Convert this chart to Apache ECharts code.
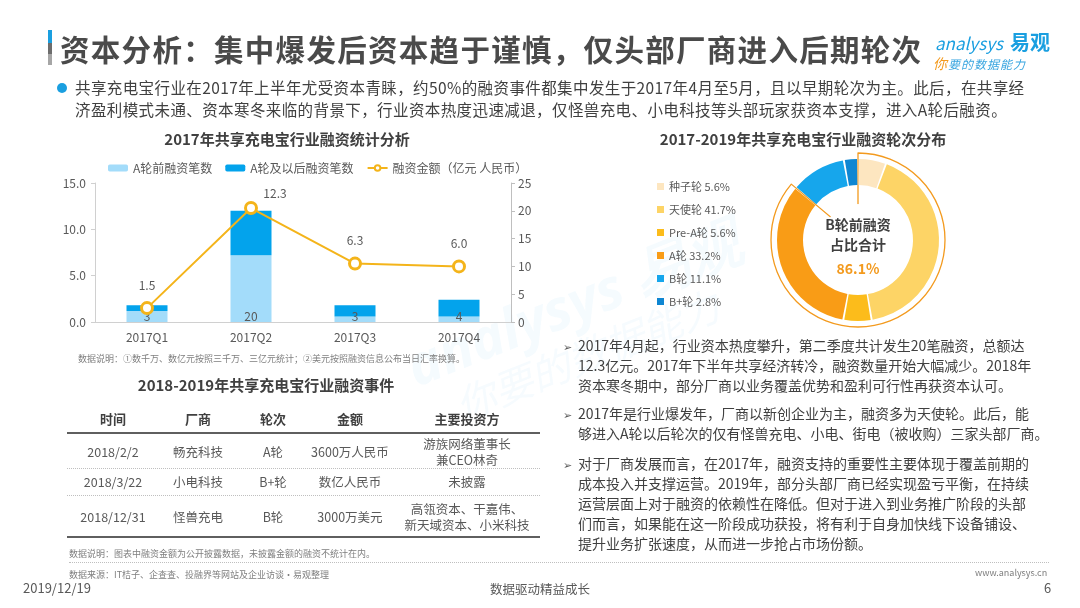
<!DOCTYPE html>
<html>
<head>
<meta charset="utf-8">
<script src="https://cdn.jsdelivr.net/npm/echarts@6/dist/echarts.min.js"></script>
<style>
  body { margin: 0; background: #fff; font-family: "Noto Sans CJK SC", "Noto Sans", sans-serif; color: #595959; }
  #page { position: relative; width: 1080px; height: 608px; overflow: hidden; }
  #chart-container { position: absolute; left: 0; top: 0; width: 1080px; height: 608px; }
  .t { position: absolute; white-space: nowrap; }
  .bar { position: absolute; left: 48px; top: 30px; width: 4px; height: 35px;
         background: linear-gradient(#1a9fe0 0%, #1a9fe0 38%, #6d6d6d 38%, #6d6d6d 70%, #a6a6a6 70%); }
  .head { left: 60px; top: 27px; font-size: 29.5px; font-weight: bold; color: #4a4a4a; letter-spacing: 1.3px; }
  .dot { position: absolute; left: 57px; top: 83px; width: 10px; height: 10px; border-radius: 50%; background: #1a9fe0; }
  .lead { left: 75px; top: 76px; font-size: 15.5px; line-height: 22px; color: #404040; letter-spacing: 0.4px; }
  .ctitle { font-size: 15px; font-weight: bold; color: #404040; transform: translateX(-50%); }
  .note { font-size: 9px; color: #7f7f7f; }
  .rt { left: 578px; font-size: 14px; line-height: 20px; color: #404040; }
  .arrow { font-size: 11px; color: #595959; }
  .cell { font-size: 12.5px; line-height: 16px; color: #595959; text-align: center; transform: translate(-50%, -50%); }
  .th { font-size: 13px; font-weight: bold; color: #404040; }
  .hline { position: absolute; left: 67px; width: 473px; }
  .center { font-size: 14px; font-weight: bold; color: #404040; transform: translateX(-50%); text-align: center; }
</style>
</head>
<body>
<div id="page">
  <div id="chart-container"></div>

  <div class="bar"></div>
  <div class="t head">资本分析：集中爆发后资本趋于谨慎，仅头部厂商进入后期轮次</div>
  <div class="t" style="left:935px;top:30px;font-size:17px;color:#1a9fe0;font-style:italic;">analysys</div>
  <div class="t" style="left:1010px;top:27px;font-size:20px;font-weight:bold;color:#1a9fe0;">易观</div>
  <div class="t" style="left:933px;top:53px;font-size:12px;font-style:italic;color:#3aa6e0;letter-spacing:1px;"><span style="color:#f39a1e;font-size:14px;">你</span>要的数据能力</div>

  <div class="dot"></div>
  <div class="t lead">共享充电宝行业在2017年上半年尤受资本青睐，约50%的融资事件都集中发生于2017年4月至5月，且以早期轮次为主。此后，在共享经<br>济盈利模式未通、资本寒冬来临的背景下，行业资本热度迅速减退，仅怪兽充电、小电科技等头部玩家获资本支撑，进入A轮后融资。</div>

  <div class="t ctitle" style="left:287px;top:128px;">2017年共享充电宝行业融资统计分析</div>
  <div class="t note" style="left:78px;top:352px;">数据说明：①数千万、数亿元按照三千万、三亿元统计；②美元按照融资信息公布当日汇率换算。</div>

  <div class="t ctitle" style="left:803px;top:128px;">2017-2019年共享充电宝行业融资轮次分布</div>
  <div class="t center" style="left:858px;top:214px;line-height:20px;">B轮前融资<br>占比合计</div>
  <div class="t center" id="preB" style="left:858px;top:258px;color:#f39a1e;"></div>

  <div class="t ctitle" style="left:266px;top:374px;">2018-2019年共享充电宝行业融资事件</div>
  <div id="table"></div>
  <div class="t note" style="left:69px;top:547px;">数据说明：图表中融资金额为公开披露数据，未披露金额的融资不统计在内。</div>

  <div id="bullets"></div>

  <div class="hline" style="left:69px;width:980px;top:562px;border-top:1px dotted #bfbfbf;"></div>
  <div class="t note" style="left:69px;top:568px;">数据来源：IT桔子、企查查、投融界等网站及企业访谈·易观整理</div>
  <div class="t" style="left:975px;top:566px;font-size:9px;color:#7f7f7f;">www.analysys.cn</div>
  <div class="t" style="left:23px;top:578px;font-size:13px;color:#595959;">2019/12/19</div>
  <div class="t" style="left:540px;top:579px;font-size:12.5px;color:#595959;transform:translateX(-50%);">数据驱动精益成长</div>
  <div class="t" style="left:1044px;top:578px;font-size:13px;color:#595959;">6</div>
</div>

<script>
// 2017 quarterly financing
var quarters = ['2017Q1', '2017Q2', '2017Q3', '2017Q4'];
var preACount = [2, 12, 1, 1];      // A轮前融资笔数
var postACount = [1, 8, 2, 3];      // A轮及以后融资笔数
var amount = [1.5, 12.3, 6.3, 6.0]; // 融资金额（亿元）

// 2017-2019 round distribution
var roundNames = ['种子轮', '天使轮', 'Pre-A轮', 'A轮', 'B轮', 'B+轮'];
var roundShare = [5.6, 41.7, 5.6, 33.2, 11.1, 2.8];
var roundColors = ['#fde6c0', '#fdd466', '#fcbc1b', '#f99c16', '#16a6ec', '#0e86d2'];

// 2018-2019 events table
var tableHead = ['时间', '厂商', '轮次', '金额', '主要投资方'];
var tableRows = [
  ['2018/2/2', '畅充科技', 'A轮', '3600万人民币', '游族网络董事长<br>兼CEO林奇'],
  ['2018/3/22', '小电科技', 'B+轮', '数亿人民币', '未披露'],
  ['2018/12/31', '怪兽充电', 'B轮', '3000万美元', '高瓴资本、干嘉伟、<br>新天域资本、小米科技']
];

var bulletLines = [
  ['2017年4月起，行业资本热度攀升，第二季度共计发生20笔融资，总额达', '12.3亿元。2017年下半年共享经济转冷，融资数量开始大幅减少。2018年', '资本寒冬期中，部分厂商以业务覆盖优势和盈利可行性再获资本认可。'],
  ['2017年是行业爆发年，厂商以新创企业为主，融资多为天使轮。此后，能', '够进入A轮以后轮次的仅有怪兽充电、小电、街电（被收购）三家头部厂商。'],
  ['对于厂商发展而言，在2017年，融资支持的重要性主要体现于覆盖前期的', '成本投入并支撑运营。2019年，部分头部厂商已经实现盈亏平衡，在持续', '运营层面上对于融资的依赖性在降低。但对于进入到业务推广阶段的头部', '们而言，如果能在这一阶段成功获投，将有利于自身加快线下设备铺设、', '提升业务扩张速度，从而进一步抢占市场份额。']
];

// ---- table (html) ----
var colX = [113, 198, 273, 350, 467];
var rowY = [452, 482, 517];
var tbl = '';
tableHead.forEach(function (h, i) {
  tbl += '<div class="t cell th" style="left:' + colX[i] + 'px;top:419px;">' + h + '</div>';
});
tableRows.forEach(function (r, j) {
  r.forEach(function (c, i) {
    tbl += '<div class="t cell" style="left:' + colX[i] + 'px;top:' + rowY[j] + 'px;">' + c + '</div>';
  });
});
tbl += '<div class="hline" style="top:432px;border-top:2px solid #5f5f5f;"></div>';
tbl += '<div class="hline" style="top:468px;border-top:1px dotted #bfbfbf;"></div>';
tbl += '<div class="hline" style="top:495px;border-top:1px dotted #bfbfbf;"></div>';
tbl += '<div class="hline" style="top:536px;border-top:2px solid #5f5f5f;"></div>';
document.getElementById('table').innerHTML = tbl;

// ---- right side bullets ----
var tops = [335, 403, 453];
var bl = '';
bulletLines.forEach(function (lines, k) {
  bl += '<div class="t arrow" style="left:563px;top:' + (tops[k] + 3) + 'px;">➢</div>';
  bl += '<div class="t rt" style="top:' + tops[k] + 'px;">' + lines.join('<br>') + '</div>';
});
document.getElementById('bullets').innerHTML = bl;

var preBShare = roundShare.slice(0, 4).reduce(function (a, b) { return a + b; }, 0);
document.getElementById('preB').textContent = preBShare.toFixed(1) + '%';

// ---- charts ----
var dom = document.getElementById('chart-container');
var myChart = echarts.init(dom, null, { renderer: 'canvas' });

var labelText = { color: '#595959', fontSize: 12, fontFamily: 'Noto Sans CJK SC' };

var option = {
  animation: false,
  textStyle: { fontFamily: 'Noto Sans CJK SC' },
  graphic: [
    {
      type: 'text', left: 400, top: 215, rotation: 0.38, z: -1, silent: true,
      style: { text: 'analysys 易观', fill: 'rgba(26,159,224,0.045)', font: 'italic bold 56px "Noto Sans"' }
    },
    {
      type: 'text', left: 450, top: 285, rotation: 0.38, z: -1, silent: true,
      style: { text: '你要的数据能力', fill: 'rgba(26,159,224,0.04)', font: 'italic 40px "Noto Sans CJK SC"' }
    }
  ],
  legend: [
    {
      left: 103, top: 157, itemWidth: 20, itemHeight: 7, itemGap: 13,
      textStyle: labelText,
      data: ['A轮前融资笔数', 'A轮及以后融资笔数', '融资金额（亿元 人民币）']
    },
    {
      orient: 'vertical', left: 652, top: 176, itemWidth: 7, itemHeight: 7, itemGap: 12,
      icon: 'rect',
      textStyle: { color: '#595959', fontSize: 11 },
      data: roundNames,
      formatter: function (name) {
        return name + ' ' + roundShare[roundNames.indexOf(name)].toFixed(1) + '%';
      }
    }
  ],
  grid: { left: 95, right: 569, top: 183, height: 139 },
  xAxis: {
    type: 'category',
    data: quarters,
    axisLine: { lineStyle: { color: '#d0d0d0' } },
    axisTick: { show: false },
    axisLabel: { color: '#595959', fontSize: 12, margin: 9 }
  },
  yAxis: [
    {
      type: 'value', min: 0, max: 15, interval: 5,
      axisLine: { show: true, lineStyle: { color: '#d0d0d0' } },
      axisTick: { show: true, length: 4, lineStyle: { color: '#d0d0d0' } },
      splitLine: { show: false },
      axisLabel: { color: '#595959', fontSize: 12, margin: 9, formatter: function (v) { return v.toFixed(1); } }
    },
    {
      type: 'value', min: 0, max: 25, interval: 5,
      axisLine: { show: true, lineStyle: { color: '#bfbfbf' } },
      axisTick: { show: true, length: 4, lineStyle: { color: '#bfbfbf' } },
      splitLine: { show: false },
      axisLabel: { color: '#595959', fontSize: 12, margin: 7 }
    }
  ],
  series: [
    {
      name: 'A轮前融资笔数', type: 'bar', stack: 'count', yAxisIndex: 1,
      barWidth: 41, data: preACount,
      itemStyle: { color: '#a3dcfa' },
      label: {
        show: true, position: 'insideBottom', distance: 0,
        color: '#595959', fontSize: 12,
        formatter: function (p) { return preACount[p.dataIndex] + postACount[p.dataIndex]; }
      },
      z: 2
    },
    {
      name: 'A轮及以后融资笔数', type: 'bar', stack: 'count', yAxisIndex: 1,
      barWidth: 41, data: postACount,
      itemStyle: { color: '#03a3ec' },
      z: 2
    },
    {
      name: '融资金额（亿元 人民币）', type: 'line', yAxisIndex: 0,
      data: amount.map(function (v, i) {
        return i === 1 ? { value: v, label: { offset: [24, 8] } } : v;
      }),
      symbol: 'circle', symbolSize: 11,
      lineStyle: { color: '#f4b41a', width: 2 },
      itemStyle: { color: '#fff', borderColor: '#f4b41a', borderWidth: 3 },
      label: {
        show: true, position: 'top', distance: 10,
        color: '#595959', fontSize: 12,
        formatter: function (p) { return p.value.toFixed(1); }
      },
      z: 5
    },
    {
      // outline around pre-B share
      name: 'outline', type: 'pie', silent: true, z: 1,
      center: [858, 240], radius: [0, 87], startAngle: 90,
      label: { show: false }, labelLine: { show: false },
      data: [
        { name: 'preB', value: preBShare, itemStyle: { color: 'rgba(0,0,0,0)', borderColor: '#f39a1e', borderWidth: 1.3 } },
        { name: 'rest', value: 100 - preBShare, itemStyle: { color: 'rgba(0,0,0,0)', borderWidth: 0 } }
      ]
    },
    {
      name: '轮次分布', type: 'pie', silent: true, z: 2,
      center: [858, 240], radius: [55, 81], startAngle: 90, padAngle: 1.4,
      label: { show: false }, labelLine: { show: false },
      data: roundNames.map(function (n, i) {
        return { name: n, value: roundShare[i], itemStyle: { color: roundColors[i] } };
      })
    },
    {
      name: 'disc', type: 'pie', silent: true, z: 3,
      center: [858, 240], radius: [0, 36],
      label: { show: false }, labelLine: { show: false },
      data: [{ name: 'disc', value: 1, itemStyle: { color: '#fff' } }]
    }
  ]
};

myChart.setOption(option);
window.addEventListener('resize', myChart.resize);
</script>
</body>
</html>
